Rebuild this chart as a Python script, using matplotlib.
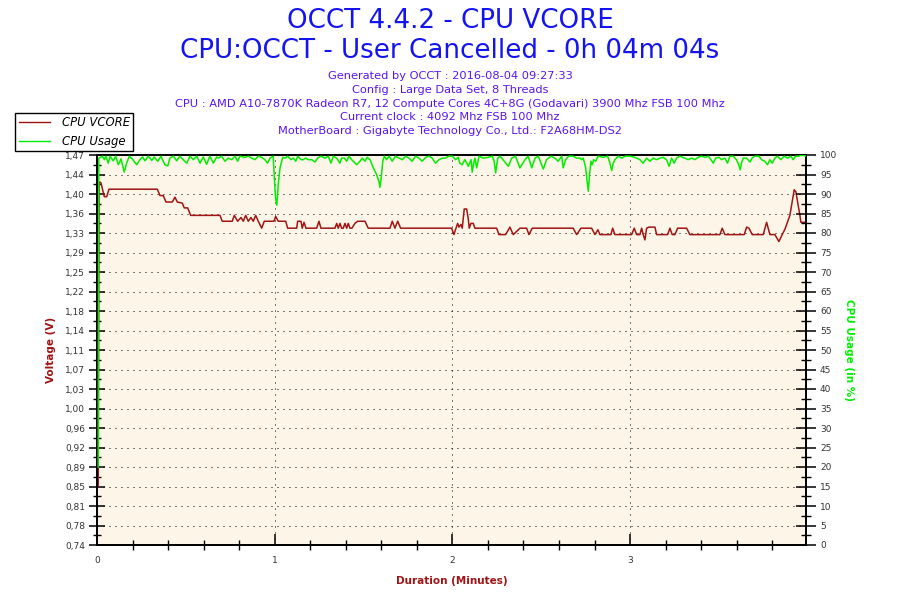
import matplotlib
matplotlib.use("Agg")
import matplotlib.pyplot as plt
from matplotlib.ticker import FixedLocator, MultipleLocator
from matplotlib.lines import Line2D
import numpy as np

# ---------------- data (time in seconds, values) ----------------
vcore_time = [0.4, 0.7, 1.35, 1.7, 2.46, 3.27, 4.05, 20.36, 21.27, 22.38, 23.30, 25.42, 26.33, 27.11,
              28.80, 29.47, 30.62, 31.63, 41.53, 42.30, 45.68, 46.35, 47.50, 48.62, 49.39, 50.20,
              51.08, 51.99, 52.77, 53.58, 54.46, 55.60, 56.48, 59.76, 60.33, 61.21, 63.71, 64.38,
              67.42, 67.76, 68.87, 69.31, 69.89, 70.56, 74.17, 74.95, 75.62, 80.35, 80.93, 81.47,
              82.04, 82.61, 83.15, 83.72, 84.30, 84.84, 85.42, 86.09, 87.10, 88.01, 90.48, 91.59,
              98.92, 99.70, 100.61, 101.52, 102.53, 119.75, 120.53, 121.03, 121.78, 122.22, 122.89,
              123.33, 124.00, 124.81, 125.35, 125.69, 126.27, 127.04, 127.62, 134.94, 135.72,
              137.98, 139.43, 140.55, 142.81, 145.07, 145.85, 146.96, 160.80, 161.95, 163.40,
              167.02, 168.13, 169.14, 169.82, 173.53, 174.11, 174.88, 180.52, 181.40, 182.21,
              183.32, 183.90, 184.44, 185.01, 185.58, 186.36, 188.39, 188.96, 192.67, 193.45,
              194.23, 195.14, 196.05, 199.09, 200.20, 210.33, 211.11, 212.02, 218.54, 219.35,
              220.12, 221.24, 224.95, 226.10, 226.64, 227.21, 228.90, 230.25, 231.36, 232.28,
              233.96, 235.42, 235.99, 237.34, 237.68, 239.04]
vcore_volts = [0.85, 1.42, 1.418, 1.41, 1.392, 1.392, 1.406, 1.406, 1.394, 1.394, 1.382, 1.382, 1.391, 1.382,
               1.380, 1.371, 1.371, 1.357, 1.357, 1.346, 1.346, 1.357, 1.346, 1.353, 1.346, 1.357,
               1.346, 1.353, 1.346, 1.357, 1.346, 1.333, 1.346, 1.346, 1.355, 1.346, 1.346, 1.333,
               1.333, 1.346, 1.346, 1.333, 1.344, 1.333, 1.333, 1.346, 1.333, 1.333, 1.342, 1.333,
               1.342, 1.333, 1.333, 1.342, 1.333, 1.342, 1.333, 1.333, 1.342, 1.346, 1.346, 1.333,
               1.333, 1.346, 1.333, 1.346, 1.333, 1.333, 1.321, 1.330, 1.342, 1.335, 1.340,
               1.333, 1.369, 1.369, 1.351, 1.333, 1.342, 1.342, 1.333, 1.333, 1.321,
               1.321, 1.335, 1.321, 1.333, 1.333, 1.321, 1.333, 1.333, 1.321, 1.333,
               1.333, 1.321, 1.330, 1.321, 1.321, 1.333, 1.321, 1.321, 1.333, 1.321,
               1.321, 1.333, 1.321, 1.311, 1.333, 1.335, 1.335, 1.321, 1.321, 1.333,
               1.321, 1.321, 1.333, 1.333, 1.321, 1.321, 1.333, 1.321, 1.321, 1.335,
               1.333, 1.321, 1.321, 1.344, 1.333, 1.321, 1.321, 1.308, 1.321, 1.331,
               1.357, 1.405, 1.401, 1.357, 1.344, 1.344]

usage_time = [0.4, 0.6, 1.35, 1.8, 2.5, 3.0, 3.8, 4.4, 5.5, 6.3, 7.2, 8.1, 9.2, 10.0, 10.9, 11.9, 13.4,
              14.5, 15.4, 16.2, 17.3, 18.5, 19.3, 20.5, 21.6, 22.9, 23.9, 24.6, 25.8, 26.9, 28.0,
              29.1, 30.3, 31.4, 32.5, 33.7, 34.8, 35.9, 37.0, 38.1, 39.3, 40.4, 41.0, 42.1, 43.2,
              44.3, 45.5, 46.6, 47.5, 48.3, 50.0, 51.1, 52.2, 53.3, 54.5, 55.6, 56.7, 57.6, 58.4,
              59.5, 59.9, 60.3, 60.7, 61.2, 61.8, 62.7, 63.5, 64.4, 65.5, 66.3, 67.1, 67.8, 68.9,
              69.6, 70.5, 71.3, 72.5, 73.6, 74.5, 75.6, 77.0, 78.1, 79.0, 79.8, 80.9, 81.3, 82.0,
              82.6, 83.5, 84.3, 85.1, 86.0, 87.7, 88.8, 89.6, 90.5, 91.2, 92.2, 93.3, 94.4, 95.2,
              95.5, 95.9, 96.5, 97.0, 97.8, 98.6, 99.7, 100.8, 102.0, 103.1, 104.2, 105.3, 106.4,
              107.6, 108.7, 109.8, 111.0, 112.1, 113.2, 114.3, 115.5, 116.6, 117.7, 118.8, 120.0,
              121.1, 122.0, 122.5, 123.3, 124.2, 125.4, 126.3, 126.7, 127.2, 127.6, 128.2, 129.0,
              130.4, 132.1, 133.5, 134.1, 134.6, 135.3, 136.1, 137.5, 138.9, 140.0, 141.3, 142.8,
              144.5, 145.6, 146.8, 147.9, 149.0, 150.7, 151.8, 153.3, 154.6, 155.7, 156.9, 157.4,
              158.2, 159.3, 160.8, 161.9, 163.1, 163.6, 164.2, 165.0, 165.5, 165.9, 166.3, 166.8,
              167.2, 167.7, 168.4, 169.2, 170.9, 172.4, 173.1, 173.8, 174.3, 174.9, 176.0, 177.2,
              178.3, 180.0, 181.6, 183.3, 184.4, 185.6, 186.7, 187.8, 189.0, 190.1, 191.2, 192.3,
              193.2, 194.0, 194.9, 195.7, 196.8, 198.5, 199.6, 200.8, 201.9, 203.0, 204.1, 205.3,
              206.4, 207.3, 208.1, 208.9, 210.0, 210.9, 212.0, 212.9, 213.7, 214.8, 215.9, 216.7,
              217.2, 217.6, 218.2, 219.3, 220.5, 221.2, 222.1, 223.5, 224.4, 225.5, 226.4, 227.2,
              228.0, 228.9, 229.8, 230.9, 232.0, 233.2, 234.3, 235.1, 235.9, 237.0, 238.1, 239.3]
usage_pct = [20.0, 99.2, 99.5, 99.7, 98.8, 99.7, 97.9, 99.7, 98.5, 99.7, 97.5, 99.0, 95.6, 97.9, 99.7, 99.0, 97.5,
             98.8, 99.5, 98.5, 99.7, 98.6, 99.5, 98.4, 99.7, 97.5, 97.2, 99.2, 99.7, 98.5, 99.7,
             98.8, 97.9, 99.7, 98.8, 99.7, 97.9, 99.5, 97.6, 99.7, 97.9, 99.5, 99.2, 99.7, 98.4,
             99.2, 98.8, 99.7, 98.4, 99.7, 99.4, 99.7, 99.2, 98.8, 99.7, 99.4, 98.8, 97.9, 99.2,
             99.7, 93.7, 89.0, 87.1, 92.4, 96.7, 99.4, 99.2, 99.7, 98.8, 99.2, 98.4, 99.7, 98.8,
             98.8, 99.2, 98.8, 98.8, 98.2, 99.2, 99.7, 99.2, 99.7, 97.9, 99.7, 99.2, 98.8, 97.9,
             99.2, 99.2, 98.4, 99.7, 98.8, 97.5, 98.4, 99.2, 98.4, 99.4, 98.8, 96.7, 95.0, 93.2,
             91.7, 93.7, 98.4, 99.7, 98.8, 99.7, 98.4, 99.7, 99.2, 98.8, 99.7, 99.2, 98.4,
             99.7, 99.2, 98.4, 99.4, 99.7, 99.2, 97.9, 98.8, 99.2, 99.2, 99.7, 99.7,
             98.8, 99.4, 97.9, 97.5, 98.8, 97.1, 98.8, 95.6, 97.9, 99.2, 96.7, 99.7,
             99.2, 99.4, 99.7, 98.4, 95.4, 99.2, 99.7, 98.4, 97.1, 99.2, 99.7, 96.7,
             98.8, 99.7, 96.7, 99.2, 99.7, 96.4, 98.8, 99.7, 99.2, 98.4, 99.7, 96.7,
             98.8, 99.7, 99.7, 99.2, 99.2, 98.8, 99.2, 96.7, 93.2, 90.7, 95.0, 98.4,
             97.5, 98.8, 98.4, 99.7, 99.4, 99.7, 98.2, 96.0, 97.9, 98.8, 99.7, 99.2,
             99.7, 99.7, 99.4, 98.8, 97.9, 99.2, 98.4, 99.2, 98.8, 99.2, 99.4, 98.8,
             97.1, 99.2, 97.9, 99.2, 99.7, 99.2, 98.8, 99.2, 98.8, 99.4, 99.7, 99.4,
             99.7, 98.8, 97.9, 99.2, 99.4, 98.8, 99.2, 97.9, 99.7, 99.7, 98.8, 97.5,
             96.2, 97.9, 99.2, 99.2, 98.2, 99.2, 99.7, 99.7, 98.8, 98.4, 97.5, 98.8,
             97.9, 99.2, 99.7, 98.8, 99.7, 99.2, 99.7, 98.8, 99.7, 99.7, 100.0, 99.7]

volt_ticks = [0.74, 0.78, 0.81, 0.85, 0.89, 0.92, 0.96, 1.00, 1.03, 1.07, 1.11,
              1.14, 1.18, 1.22, 1.25, 1.29, 1.33, 1.36, 1.40, 1.44, 1.47]
usage_ticks = list(range(0, 101, 5))
minute_ticks = [0, 1, 2, 3]

title_lines = ["OCCT 4.4.2 - CPU VCORE", "CPU:OCCT - User Cancelled - 0h 04m 04s"]
info_lines = ["Generated by OCCT : 2016-08-04 09:27:33",
              "Config : Large Data Set, 8 Threads",
              "CPU : AMD A10-7870K Radeon R7, 12 Compute Cores 4C+8G (Godavari) 3900 Mhz FSB 100 Mhz",
              "Current clock : 4092 Mhz FSB 100 Mhz",
              "MotherBoard : Gigabyte Technology Co., Ltd.: F2A68HM-DS2"]

# ---------------- styling ----------------
RED = "#a01414"
GREEN = "#00ee00"
BG = "#fdf6e8"
TICKC = "#333333"

plt.rcParams['font.family'] = ['DejaVu Sans']
fig = plt.figure(figsize=(9, 6), dpi=100)
W, H = 900, 600
L, R, T, B = 97, 806, 155, 545
ax = fig.add_axes([L / W, 1 - B / H, (R - L) / W, (B - T) / H])
ax.set_facecolor(BG)
ax2 = ax.twinx()

vx = np.array(vcore_time) / 60.0
ux = np.array(usage_time) / 60.0
ax.plot(vx, vcore_volts, color=RED, lw=1.1, zorder=3)
ax2.plot(ux, usage_pct, color=GREEN, lw=1.1, zorder=3)

ax.set_xlim(0, 3.99)
ax.set_ylim(volt_ticks[0], volt_ticks[-1])
ax2.set_ylim(0, 100)

# ticks
ax.yaxis.set_major_locator(FixedLocator(np.linspace(volt_ticks[0], volt_ticks[-1], len(volt_ticks))))
ax.set_yticklabels([f"{v:.2f}".replace('.', ',') for v in volt_ticks])
ax.yaxis.set_minor_locator(FixedLocator(np.linspace(volt_ticks[0], volt_ticks[-1], 2 * len(volt_ticks) - 1)))
ax.xaxis.set_major_locator(FixedLocator(minute_ticks))
ax.set_xticklabels([str(m) for m in minute_ticks])
ax.xaxis.set_minor_locator(MultipleLocator(0.2))
ax2.yaxis.set_major_locator(FixedLocator(usage_ticks))
ax2.yaxis.set_minor_locator(MultipleLocator(2.5))

for a in (ax, ax2):
    for s in a.spines.values():
        s.set_color("black")
        s.set_linewidth(1.3)

ax.tick_params(axis='y', which='major', direction='inout', length=11, width=1.1,
               labelsize=6.5, labelcolor=TICKC, pad=3)
ax.tick_params(axis='y', which='minor', direction='inout', length=6, width=1.0)
ax.tick_params(axis='x', which='major', direction='in', length=8, width=1.1,
               labelsize=6.5, labelcolor=TICKC, pad=8)
ax.tick_params(axis='x', which='minor', direction='inout', length=7, width=1.0)
ax2.tick_params(axis='y', which='major', direction='inout', length=14, width=1.1,
                labelsize=6.5, labelcolor=TICKC, pad=3)
ax2.tick_params(axis='y', which='minor', direction='inout', length=7, width=1.0)

# dotted grid
dots = dict(color="black", lw=0.72, linestyle=(0, (1, 5)), zorder=1)
for yv in np.linspace(volt_ticks[0], volt_ticks[-1], len(volt_ticks))[1:]:
    ax.axhline(yv, **dots)
for xv in minute_ticks[1:]:
    ax.axvline(xv, **dots)

# axis labels
ax.set_ylabel("Voltage (V)", color=RED, fontsize=7.5, fontweight='bold', labelpad=6.5)
ax2.set_ylabel("CPU Usage (in %)", color=GREEN, fontsize=7.5, fontweight='bold',
               rotation=270, labelpad=12.5)
ax.set_xlabel("Duration (Minutes)", color=RED, fontsize=7.5, fontweight='bold', labelpad=7.5)

# titles
TITLEC = "#1414f0"
INFOC = "#5a14f0"
fig.text(0.5, 1 - 21 / H, title_lines[0], ha='center', va='center', fontsize=18.8, color=TITLEC)
fig.text(0.5, 1 - 51 / H, title_lines[1], ha='center', va='center', fontsize=18.8, color=TITLEC)
for i, line in enumerate(info_lines):
    fig.text(0.5, 1 - (76 + 13.8 * i) / H, line, ha='center', va='center', fontsize=8.2, color=INFOC)

# legend
handles = [Line2D([], [], color=RED, lw=1.0), Line2D([], [], color=GREEN, lw=1.0)]
leg = fig.legend(handles, ["CPU VCORE", "CPU Usage"], loc='upper left',
                 bbox_to_anchor=(15 / W, 1 - 113 / H), borderaxespad=0, fancybox=False,
                 framealpha=1, edgecolor='black', prop={'size': 8.4, 'style': 'italic'},
                 handlelength=2.7, handletextpad=1.0, labelspacing=0.45, borderpad=0.3)
leg.get_frame().set_linewidth(1.0)

fig.savefig("out.png", dpi=100)
